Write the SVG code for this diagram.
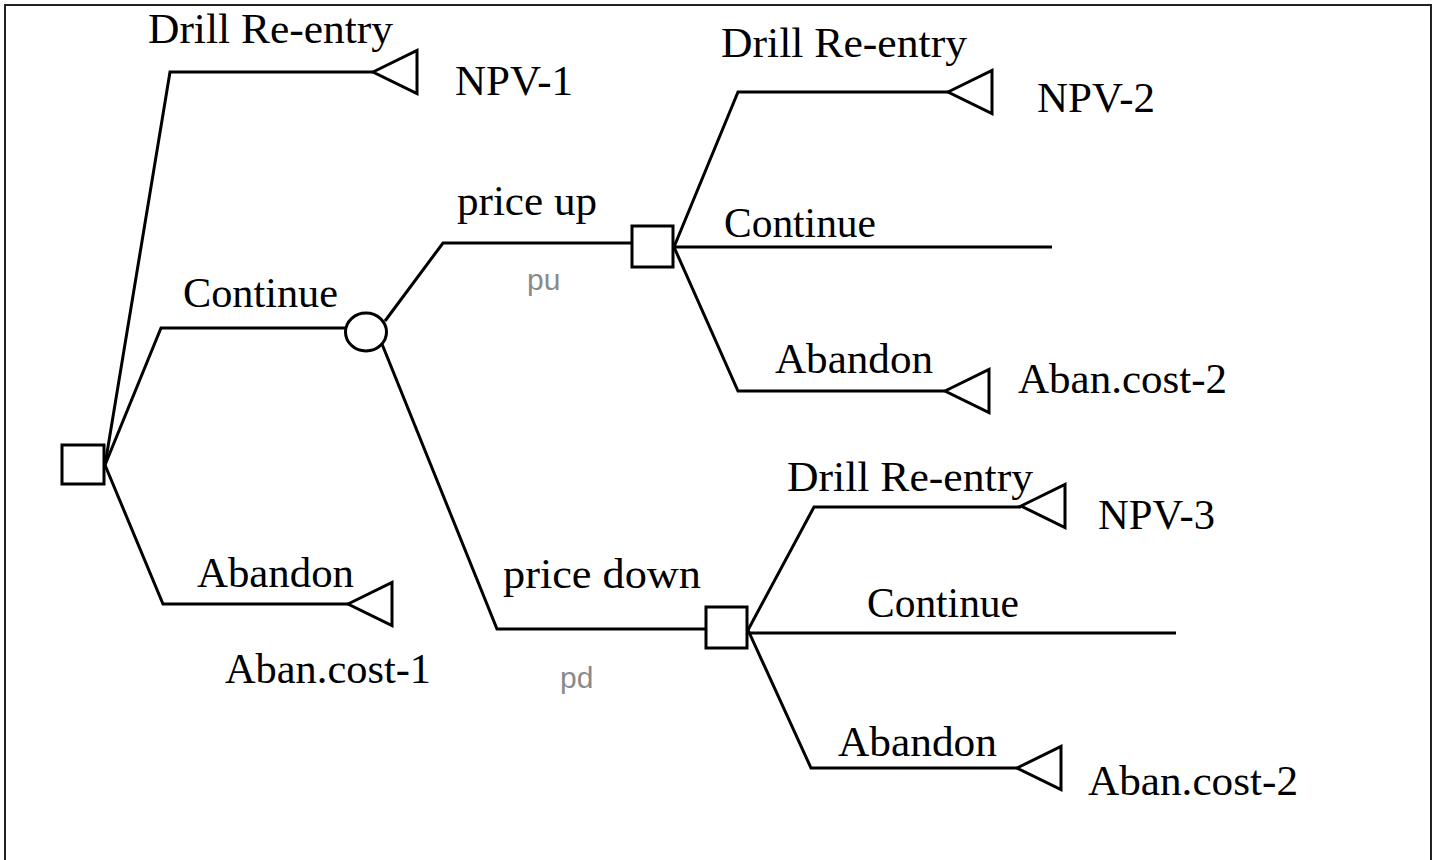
<svg xmlns="http://www.w3.org/2000/svg" width="1438" height="860" viewBox="0 0 1438 860">
<style>
.ln{fill:none;stroke:#000;stroke-width:3;stroke-linejoin:miter}
.nd{fill:#fff;stroke:#000;stroke-width:3}
.t{font-family:"Liberation Serif","Times New Roman",serif;font-size:42px;fill:#000}
.p{font-family:"Liberation Sans",Arial,sans-serif;font-size:30px;fill:#8a8a8a}
</style>
<defs>
<path id="tri" d="M0,0 L44,-21.5 L44,21.5 Z" fill="#fff" stroke="#000" stroke-width="3" stroke-linejoin="miter"/>
</defs>
<rect x="5" y="5" width="1426" height="880" fill="#fff" stroke="#222" stroke-width="2"/>
<g id="connectors">
<polyline class="ln" points="105,465 170,72 373,72"/>
<polyline class="ln" points="105,465 161,328 345,328"/>
<polyline class="ln" points="105,465 163,604 348,604"/>
<polyline class="ln" points="385,321 443,243 631,243"/>
<polyline class="ln" points="382,344 497,629 705,629"/>
<polyline class="ln" points="674,247 738,92 948,92"/>
<polyline class="ln" points="674,247 1052,247"/>
<polyline class="ln" points="674,247 738,391 945,391"/>
<polyline class="ln" points="748,630 814,507 1021,507"/>
<polyline class="ln" points="748,633 1176,633"/>
<polyline class="ln" points="748,630 811,768 1017,768"/>
</g>
<g id="root"><rect class="nd" x="62" y="445" width="42" height="39"/></g>
<g id="chance"><ellipse class="nd" cx="366" cy="332" rx="20.5" ry="19"/></g>
<g id="decision-up"><rect class="nd" x="632" y="226" width="41" height="41"/></g>
<g id="decision-down"><rect class="nd" x="706" y="607" width="41" height="41"/></g>
<g id="end-npv1"><use href="#tri" x="373" y="72"/><text class="t" x="455" y="95" textLength="118" lengthAdjust="spacingAndGlyphs">NPV-1</text></g>
<g id="end-aban1"><use href="#tri" x="348" y="604"/><text class="t" x="225" y="683" textLength="206" lengthAdjust="spacingAndGlyphs">Aban.cost-1</text></g>
<g id="end-npv2"><use href="#tri" x="948" y="92"/><text class="t" x="1037" y="112" textLength="118" lengthAdjust="spacingAndGlyphs">NPV-2</text></g>
<g id="end-aban2a"><use href="#tri" x="945" y="391"/><text class="t" x="1018" y="393" textLength="209" lengthAdjust="spacingAndGlyphs">Aban.cost-2</text></g>
<g id="end-npv3"><use href="#tri" x="1021" y="506"/><text class="t" x="1098" y="529" textLength="117" lengthAdjust="spacingAndGlyphs">NPV-3</text></g>
<g id="end-aban2b"><use href="#tri" x="1017" y="768"/><text class="t" x="1088" y="795" textLength="210" lengthAdjust="spacingAndGlyphs">Aban.cost-2</text></g>
<g id="labels">
<text class="t" x="148" y="43" textLength="245" lengthAdjust="spacingAndGlyphs">Drill Re-entry</text>
<text class="t" x="183" y="307" textLength="155" lengthAdjust="spacingAndGlyphs">Continue</text>
<text class="t" x="197" y="587" textLength="157" lengthAdjust="spacingAndGlyphs">Abandon</text>
<text class="t" x="457" y="215" textLength="140" lengthAdjust="spacingAndGlyphs">price up</text>
<text class="p" x="527" y="290">pu</text>
<text class="t" x="503" y="588" textLength="198" lengthAdjust="spacingAndGlyphs">price down</text>
<text class="p" x="560" y="688">pd</text>
<text class="t" x="721" y="57" textLength="246" lengthAdjust="spacingAndGlyphs">Drill Re-entry</text>
<text class="t" x="724" y="237" textLength="152" lengthAdjust="spacingAndGlyphs">Continue</text>
<text class="t" x="775" y="373" textLength="158" lengthAdjust="spacingAndGlyphs">Abandon</text>
<text class="t" x="787" y="491" textLength="246" lengthAdjust="spacingAndGlyphs">Drill Re-entry</text>
<text class="t" x="867" y="617" textLength="152" lengthAdjust="spacingAndGlyphs">Continue</text>
<text class="t" x="838" y="756" textLength="159" lengthAdjust="spacingAndGlyphs">Abandon</text>
</g>
</svg>
